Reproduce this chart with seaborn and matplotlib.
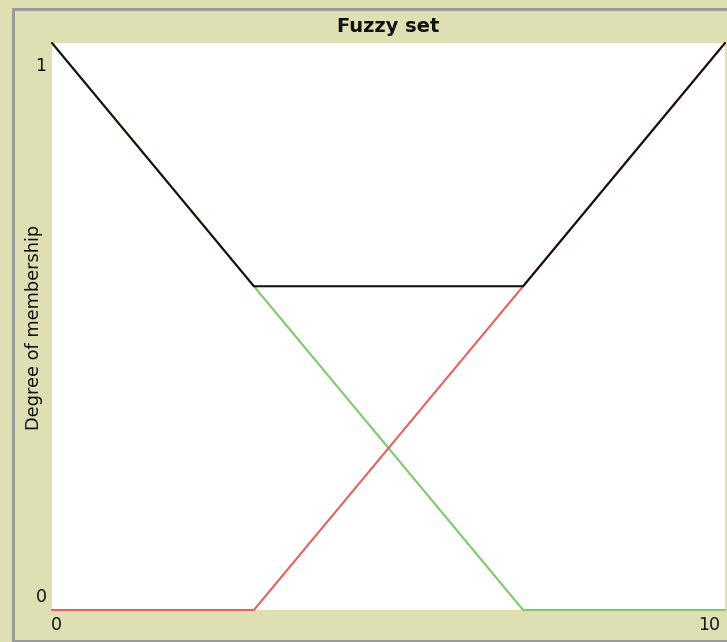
import pandas as pd
import seaborn as sns
import matplotlib.pyplot as plt
from matplotlib.lines import Line2D

# Datos del conjunto difuso
x_vals = [0, 3, 7, 10]
verde = [1.0, 0.571, 0.0, 0.0]
rojo = [0.0, 0.0, 0.571, 1.0]
negro = [1.0, 0.571, 0.571, 1.0]

df = pd.DataFrame({"x": x_vals * 3,
                   "y": verde + rojo + negro,
                   "serie": ["verde"] * 4 + ["rojo"] * 4 + ["negro"] * 4})

beige = "#dfdfb4"
colores = {"verde": "#7ccb6a", "rojo": "#e8615a", "negro": "#111111"}

sns.set_style("white")
plt.rcParams['font.family'] = ['DejaVu Sans']

fig = plt.figure(figsize=(7.27, 6.42), dpi=100, facecolor=beige)
ax = fig.add_axes([52 / 727, 32 / 642, 673 / 727, 567 / 642])
ax.set_facecolor("white")

sns.lineplot(data=df, x="x", y="y", hue="serie", palette=colores,
             hue_order=["verde", "rojo", "negro"], linewidth=1.5,
             legend=False, ax=ax, clip_on=False)

ax.set_xlim(0, 10)
ax.set_ylim(0, 1)
ax.set_xticks([])
ax.set_yticks([])
ax.set_xlabel("")
ax.set_ylabel("")
for s in ax.spines.values():
    s.set_visible(False)

# Textos estilo NetLogo
fig.text(388 / 727, 1 - 27 / 642, "Fuzzy set", ha="center", va="center",
         fontsize=14, fontweight="bold", color="#111111")
fig.text(34 / 727, 1 - 327 / 642, "Degree of membership", rotation=90,
         ha="center", va="center", fontsize=12.8, color="#111111")
fig.text(41 / 727, 1 - 66 / 642, "1", ha="center", va="center", fontsize=12.5, color="#111111")
fig.text(41 / 727, 1 - 597 / 642, "0", ha="center", va="center", fontsize=12.5, color="#111111")
fig.text(56 / 727, 1 - 625 / 642, "0", ha="center", va="center", fontsize=12.5, color="#111111")
fig.text(709 / 727, 1 - 625 / 642, "10", ha="center", va="center", fontsize=12.5, color="#111111")

# Marco gris
for xs, ys in [([13 / 727, 13 / 727], [0, 1 - 9 / 642]),
               ([13 / 727, 1], [1 - 9 / 642, 1 - 9 / 642]),
               ([13 / 727, 1], [1 / 642, 1 / 642])]:
    fig.add_artist(Line2D(xs, ys, color="#9a9a9a", linewidth=2.2,
                          transform=fig.transFigure))

plt.savefig("out.png", dpi=100, facecolor=beige)
